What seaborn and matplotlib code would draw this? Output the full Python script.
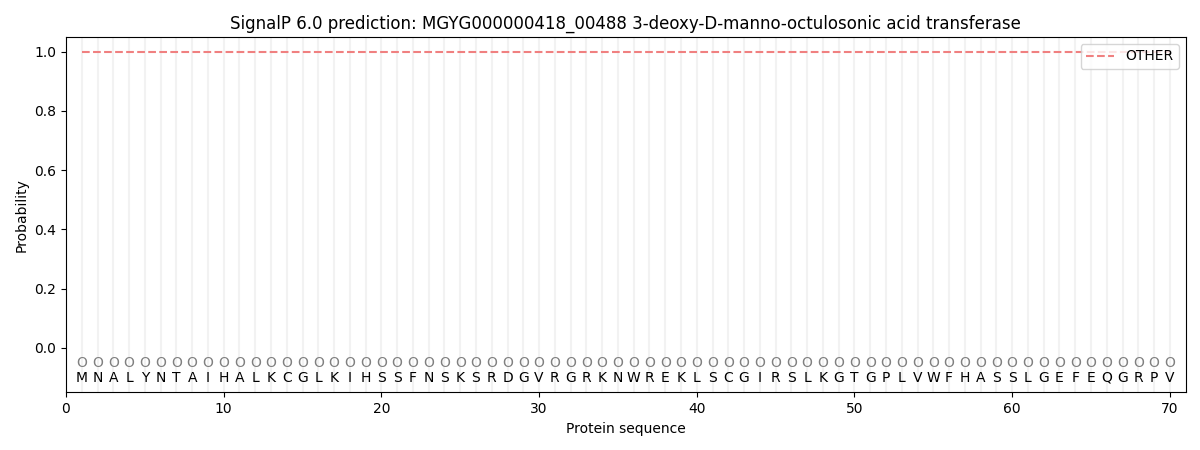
import matplotlib
matplotlib.use("Agg")
import matplotlib.pyplot as plt
import seaborn as sns
import numpy as np
import pandas as pd

sequence = list("MNALYNTAIHALKCGLKIHSSFNSKSRDGVRGRKNWREKLSCGIRSLKGTGPLVWFHASSLGEFEQGRPV")
positions = list(range(1, len(sequence) + 1))
labels = ["O"] * len(sequence)
other_prob = [1.0] * len(sequence)

df = pd.DataFrame({"pos": positions, "OTHER": other_prob})

fig, ax = plt.subplots(figsize=(12, 4.5), dpi=100)

for p in positions:
    ax.axvline(p, color="#f2f2f2", lw=1.5, zorder=0)

sns.lineplot(data=df, x="pos", y="OTHER", ax=ax, color="#f08080", linestyle="--",
             label="OTHER", lw=1.5)

for p, aa, lab in zip(positions, sequence, labels):
    ax.text(p, -0.05, lab, ha="center", va="center", fontsize=10, color="#808080")
    ax.text(p, -0.1, aa, ha="center", va="center", fontsize=10, color="black")

ax.set_xlim(0, 71)
ax.set_ylim(-0.15, 1.05)
ax.set_xticks(range(0, 71, 10))
ax.set_yticks([0.0, 0.2, 0.4, 0.6, 0.8, 1.0])
ax.set_xlabel("Protein sequence")
ax.set_ylabel("Probability")
ax.set_title("SignalP 6.0 prediction: MGYG000000418_00488 3-deoxy-D-manno-octulosonic acid transferase")
ax.legend(loc="upper right")

plt.subplots_adjust(left=0.055, right=0.988, top=0.918, bottom=0.128)
fig.savefig("out.png")
